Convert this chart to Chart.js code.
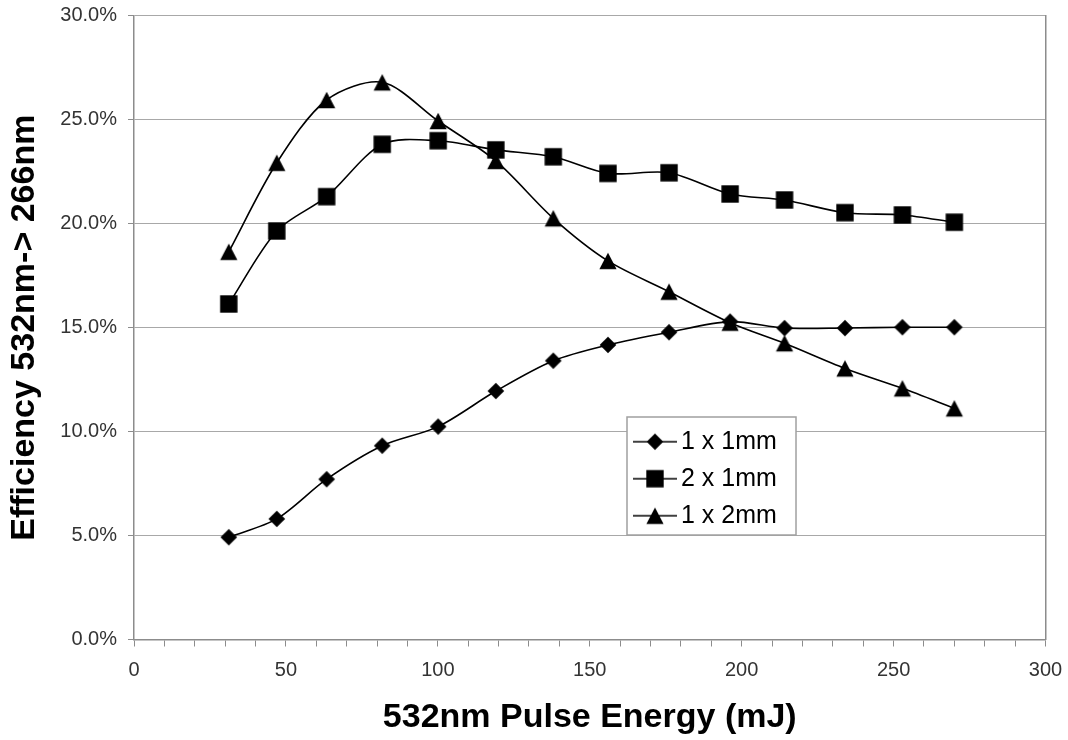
<!DOCTYPE html>
<html><head><meta charset="utf-8">
<script src="https://cdn.jsdelivr.net/npm/chart.js@4.4.1/dist/chart.umd.min.js"></script>
<style>html,body{margin:0;padding:0;background:#fff}#c{display:block}</style>
</head><body>
<canvas id="c" width="1068" height="740"></canvas>
<script>
// ---- data ----
const energy = [31.2, 47.0, 63.4, 81.7, 100.1, 119.1, 138.0, 156.0, 176.1, 196.2, 214.1, 234.0, 252.9, 270.0];
const eff1x1 = [4.92, 5.80, 7.71, 9.32, 10.24, 11.95, 13.41, 14.17, 14.78, 15.29, 14.98, 14.98, 15.02, 15.02];
const eff2x1 = [16.14, 19.65, 21.30, 23.82, 23.99, 23.55, 23.22, 22.42, 22.45, 21.43, 21.14, 20.53, 20.42, 20.07];
const eff1x2 = [18.65, 22.93, 25.95, 26.80, 24.94, 23.02, 20.26, 18.21, 16.73, 15.24, 14.25, 13.04, 12.08, 11.12];
const seriesNames = ['1 x 1mm', '2 x 1mm', '1 x 2mm'];
const seriesShapes = ['diamond', 'square', 'triangle'];
const xTitle = '532nm Pulse Energy (mJ)';
const yTitle = 'Efficiency 532nm-> 266nm';
const xMajorStep = 50;   // labelled ticks
const xMinorStep = 10;   // tick marks
const yStep = 5;

// ---- marker images ----
function makeMarker(shape, withLine) {
  const w = withLine ? 44 : 20, h = 20;
  const c = document.createElement('canvas');
  c.width = w; c.height = h;
  const g = c.getContext('2d');
  const cx = w / 2, cy = h / 2;
  if (withLine) {
    g.strokeStyle = '#000'; g.lineWidth = 1.5;
    g.beginPath(); g.moveTo(0, cy); g.lineTo(w, cy); g.stroke();
  }
  g.fillStyle = '#000';
  g.beginPath();
  if (shape === 'diamond') {
    const r = 8.3;
    g.moveTo(cx, cy - r); g.lineTo(cx + r, cy); g.lineTo(cx, cy + r); g.lineTo(cx - r, cy);
  } else if (shape === 'square') {
    const s = 8.7;
    g.rect(cx - s, cy - s, 2 * s, 2 * s);
  } else {
    const hw = 8.6, hh = 8.2;
    g.moveTo(cx, cy - hh); g.lineTo(cx + hw, cy + hh); g.lineTo(cx - hw, cy + hh);
  }
  g.closePath();
  g.fill();
  return c;
}
const pointIcons = seriesShapes.map(s => makeMarker(s, false));
const legendIcons = seriesShapes.map(s => makeMarker(s, true));

const seriesValues = [eff1x1, eff2x1, eff1x2];
const datasets = seriesValues.map((vals, i) => ({
  label: seriesNames[i],
  data: energy.map((x, j) => ({ x: x, y: vals[j] })),
  borderColor: '#000',
  backgroundColor: '#000',
  borderWidth: 1.6,
  pointStyle: pointIcons[i],
  pointRadius: 8,
  tension: 0.3,
  fill: false
}));

// legend frame + placement
const LEGEND_BOX = { left: 627, top: 417, right: 796, bottom: 535 };
const legendPlacer = {
  id: 'legendPlacer',
  afterLayout(chart) {
    const lg = chart.legend;
    if (!lg) return;
    const pad = lg.options.labels.padding;
    lg.left = 641.5 - pad;
    lg.top = LEGEND_BOX.top + 0.2;
    lg.right = LEGEND_BOX.right;
    lg.bottom = LEGEND_BOX.bottom + 60;
    lg.width = lg.right - lg.left;
    lg.height = lg.bottom - lg.top;
    if (!lg._framePatched) {
      const origDraw = lg.draw;
      lg.draw = function () {
        const ctx = this.chart.ctx;
        ctx.save();
        ctx.fillStyle = '#fff';
        ctx.strokeStyle = '#a0a0a0';
        ctx.lineWidth = 1.5;
        const b = LEGEND_BOX;
        ctx.fillRect(b.left, b.top, b.right - b.left, b.bottom - b.top);
        ctx.strokeRect(b.left, b.top, b.right - b.left, b.bottom - b.top);
        ctx.restore();
        return origDraw.apply(this, arguments);
      };
      lg._framePatched = true;
    }
  }
};

new Chart(document.getElementById('c'), {
  type: 'line',
  data: { datasets: datasets },
  plugins: [legendPlacer],
  options: {
    responsive: false,
    animation: false,
    events: [],
    layout: { padding: { top: 15.8, left: 0, right: 0, bottom: 0 } },
    plugins: {
      tooltip: { enabled: false },
      legend: {
        position: 'chartArea',
        align: 'start',
        labels: {
          usePointStyle: true,
          pointStyleWidth: 27,
          padding: 12,
          color: '#000',
          font: { family: 'Liberation Sans', size: 25 },
          generateLabels: (chart) => chart.data.datasets.map((ds, i) => ({
            text: ds.label,
            pointStyle: legendIcons[i],
            fillStyle: '#000',
            strokeStyle: '#000',
            lineWidth: 0,
            hidden: false,
            datasetIndex: i,
            fontColor: '#000'
          }))
        }
      }
    },
    scales: {
      x: {
        type: 'linear',
        min: 0, max: 300,
        ticks: {
          stepSize: xMinorStep,
          autoSkip: false,
          maxRotation: 0,
          padding: 12,
          color: '#333',
          font: { family: 'Liberation Sans', size: 20 },
          callback: (v) => (v % xMajorStep === 0 ? String(v) : '')
        },
        grid: { drawOnChartArea: false, drawTicks: true, tickLength: 7, color: '#8c8c8c', lineWidth: 1 },
        border: { display: true, color: '#8c8c8c', width: 1.5 },
        title: {
          display: true, text: xTitle, color: '#000',
          font: { family: 'Liberation Sans', size: 34, weight: 'bold' },
          padding: { top: 0, bottom: 2 }
        },
        afterFit: (s) => { s.height = 100.5; s.paddingLeft = 0; s.paddingRight = 0; }
      },
      y: {
        type: 'linear',
        position: 'left',
        min: 0, max: 30,
        ticks: {
          stepSize: yStep,
          padding: 11,
          color: '#333',
          font: { family: 'Liberation Sans', size: 20 },
          callback: (v) => v.toFixed(1) + '%'
        },
        grid: { color: '#a8a8a8', lineWidth: 1, drawTicks: true, tickLength: 6, tickColor: '#8c8c8c' },
        border: { display: true, color: '#8c8c8c', width: 1.5 },
        title: {
          display: true, text: yTitle, color: '#000',
          font: { family: 'Liberation Sans', size: 34, weight: 'bold' },
          padding: { top: 4, bottom: 0 }
        },
        afterFit: (s) => { s.width = 134; s.paddingTop = 0; s.paddingBottom = 0; }
      },
      yRight: {
        type: 'linear',
        position: 'right',
        min: 0, max: 30,
        ticks: { display: false },
        grid: { display: false, drawTicks: false },
        border: { display: true, color: '#8c8c8c', width: 1.5 },
        afterFit: (s) => { s.width = 22.5; s.paddingTop = 0; s.paddingBottom = 0; }
      }
    }
  }
});
</script>
</body></html>
